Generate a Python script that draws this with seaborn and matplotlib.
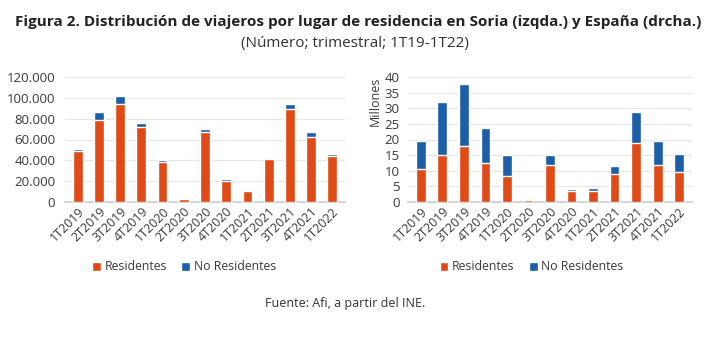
import matplotlib
matplotlib.use("Agg")
import matplotlib.pyplot as plt
import seaborn as sns
import pandas as pd
from matplotlib.ticker import FuncFormatter, MultipleLocator

quarters = ["1T2019", "2T2019", "3T2019", "4T2019", "1T2020", "2T2020", "3T2020",
            "4T2020", "1T2021", "2T2021", "3T2021", "4T2021", "1T2022"]
soria_residentes = [49000, 79000, 94500, 72000, 38000, 3300, 67500, 20500, 10500, 41000, 89000, 62000, 44000]
soria_no_residentes = [2000, 7000, 7000, 4000, 2000, 500, 2300, 1200, 700, 1500, 5000, 4800, 2500]
espana_residentes = [10.7, 15.1, 18.0, 12.4, 8.3, 0.8, 11.9, 3.4, 3.5, 8.9, 18.9, 11.8, 9.5]
espana_no_residentes = [8.7, 17.0, 19.7, 11.3, 6.7, 0.3, 3.1, 0.8, 0.9, 2.6, 9.8, 7.6, 6.0]

RED = "#E04A16"
BLUE = "#1C5EA8"
TXT = "#3A3A3A"

sns.set_theme(style="white")
plt.rcParams["font.family"] = ["Open Sans", "DejaVu Sans"]

fig = plt.figure(figsize=(7.14, 3.43), dpi=100)
W, H = 714, 343
axL = fig.add_axes([65 / W, 1 - 202 / H, 280 / W, 125 / H])
axR = fig.add_axes([408 / W, 1 - 202 / H, 284 / W, 125 / H])


def draw(ax, res, nores, ymax, step, fmt, leg_x, ypad):
    df = pd.DataFrame({"q": quarters, "res": res,
                       "tot": [a + b for a, b in zip(res, nores)]})
    sns.barplot(data=df, x="q", y="tot", color=BLUE, width=0.46, ax=ax,
                saturation=1, label="No Residentes", zorder=3)
    sns.barplot(data=df, x="q", y="res", color=RED, width=0.46, ax=ax,
                saturation=1, label="Residentes", zorder=3)
    ax.set_ylim(0, ymax)
    ax.yaxis.set_major_locator(MultipleLocator(step))
    ax.yaxis.set_major_formatter(FuncFormatter(fmt))
    ax.set_xlim(-0.6, len(quarters) - 0.4)
    ax.grid(axis="y", color="#E6E6E6", lw=0.8, zorder=0)
    for s in ["top", "right", "left"]:
        ax.spines[s].set_visible(False)
    ax.spines["bottom"].set_color("#D0D0D0")
    ax.set_xlabel("")
    ax.set_ylabel("")
    ax.tick_params(axis="y", labelsize=9.5, colors=TXT, length=0, pad=ypad)
    ax.tick_params(axis="x", labelsize=9, colors=TXT, length=0, pad=2)
    for lab in ax.get_xticklabels():
        lab.set_rotation(45)
        lab.set_ha("right")
        lab.set_rotation_mode("anchor")
    handles, labels = ax.get_legend_handles_labels()
    order = [labels.index("Residentes"), labels.index("No Residentes")]
    ax.legend([handles[i] for i in order], [labels[i] for i in order],
              loc="upper center", bbox_to_anchor=(leg_x, -0.38), ncol=2,
              frameon=False, fontsize=8.8, handlelength=0.7, handleheight=0.7,
              columnspacing=1.2, handletextpad=0.3, labelcolor=TXT)


draw(axL, soria_residentes, soria_no_residentes, 120000, 20000,
     lambda v, p: f"{int(v):,}".replace(",", "."), 0.425, 7)
draw(axR, espana_residentes, espana_no_residentes, 40, 5,
     lambda v, p: f"{int(v)}", 0.435, 6)
axR.set_ylabel("Millones", fontsize=9, color=TXT, labelpad=2, loc="top")

fig.text(0.502, 1 - 22 / H, "Figura 2. Distribución de viajeros por lugar de residencia en Soria (izqda.) y España (drcha.)",
         ha="center", va="center", fontsize=11, fontweight="bold", color="#222222")
fig.text(0.497, 1 - 44 / H, "(Número; trimestral; 1T19-1T22)", ha="center", va="center",
         fontsize=11, color="#333333")
fig.text(345 / W, 1 - 303 / H, "Fuente: Afi, a partir del INE.", ha="center", va="center",
         fontsize=9, color="#333333")

fig.savefig("out.png", dpi=100, facecolor="white")
